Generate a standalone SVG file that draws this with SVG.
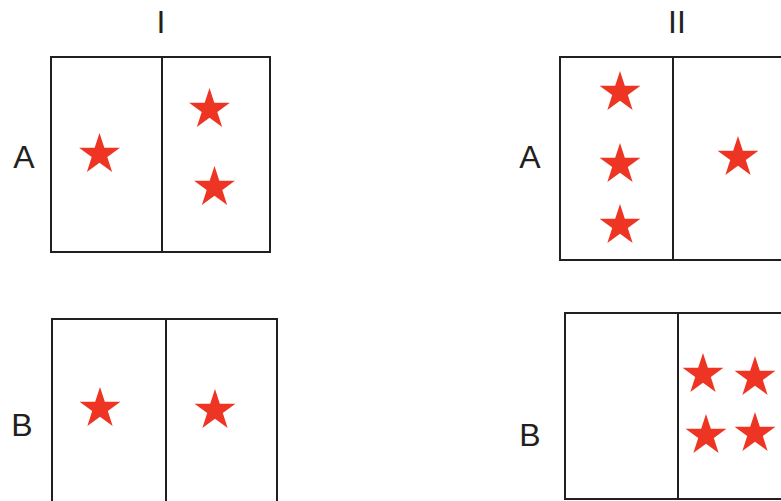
<svg xmlns="http://www.w3.org/2000/svg" xmlns:xlink="http://www.w3.org/1999/xlink" width="781" height="501" viewBox="0 0 781 501">
<style>
.box{fill:none;stroke:#231f20;stroke-width:2}
.lbl{font-family:"Liberation Sans",Arial,sans-serif;font-size:32px;fill:#231f20;text-anchor:middle}
.star{fill:#ee3524}
</style>
<defs>
<path id="star" class="star" d="M0,-21.5 L4.83,-6.64 L20.45,-6.64 L7.81,2.54 L12.64,17.39 L0,8.21 L-12.64,17.39 L-7.81,2.54 L-20.45,-6.64 L-4.83,-6.64 Z"/>
</defs>
<rect width="781" height="501" fill="#fff"/>
<g id="labels">
<text class="lbl" x="161" y="33">I</text>
<text class="lbl" x="677" y="33">II</text>
<text class="lbl" x="24" y="168">A</text>
<text class="lbl" x="530" y="168">A</text>
<text class="lbl" x="22" y="436">B</text>
<text class="lbl" x="530" y="446">B</text>
</g>
<g id="IA">
<rect class="box" x="51" y="57" width="219" height="195"/>
<line class="box" x1="162" y1="57" x2="162" y2="252"/>
<use xlink:href="#star" x="99.5" y="154.5"/>
<use xlink:href="#star" x="209.5" y="109.5"/>
<use xlink:href="#star" x="214.5" y="187.5"/>
</g>
<g id="IIA">
<path class="box" d="M790,57 H560 V260 H790"/>
<line class="box" x1="673" y1="57" x2="673" y2="260"/>
<use xlink:href="#star" x="620" y="92.5"/>
<use xlink:href="#star" x="620" y="164.5"/>
<use xlink:href="#star" x="620" y="225.5"/>
<use xlink:href="#star" x="738" y="157.5"/>
</g>
<g id="IB">
<path class="box" d="M52,510 V319 H277 V510"/>
<line class="box" x1="166" y1="319" x2="166" y2="510"/>
<use xlink:href="#star" x="100" y="408.5"/>
<use xlink:href="#star" x="215" y="410.5"/>
</g>
<g id="IIB">
<path class="box" d="M790,313 H565 V499 H790"/>
<line class="box" x1="678" y1="313" x2="678" y2="499"/>
<use xlink:href="#star" x="703" y="374.5"/>
<use xlink:href="#star" x="755" y="377.5"/>
<use xlink:href="#star" x="706" y="435.5"/>
<use xlink:href="#star" x="755" y="433.5"/>
</g>
</svg>
